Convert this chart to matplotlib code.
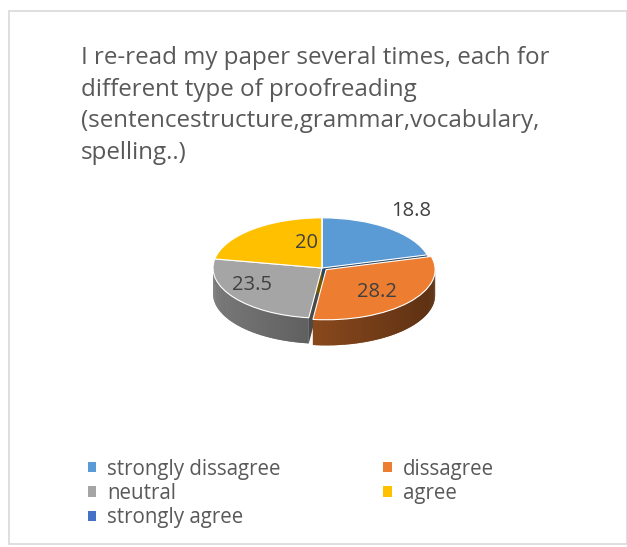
import numpy as np
import matplotlib.pyplot as plt
from matplotlib.patches import Polygon, Patch, Rectangle
from matplotlib.transforms import Affine2D
from matplotlib.colors import to_rgb

categories = ["strongly dissagree", "dissagree", "neutral", "agree", "strongly agree"]
values = [18.8, 28.2, 23.5, 20, 0]
value_labels = ["18.8", "28.2", "23.5", "20", ""]
colors = ["#5B9BD5", "#ED7D31", "#A5A5A5", "#FFC000", "#4472C4"]
explode = [0, 0.05, 0, 0, 0]
title = ("I re-read my paper several times, each for\n"
         "different type of proofreading\n"
         "(sentencestructure,grammar,vocabulary,\n"
         "spelling..)")

W, H = 627, 547
FONT = ["Open Sans", "DejaVu Sans"]
TXT = "#595959"
SQUASH = 0.46
DEPTH = 0.235
PX = 109.0  # pixels per pie unit


def fx(px):
    return px / W


def fy(py):
    return 1 - py / H


def shade(c, f):
    r, g, b = to_rgb(c)
    return (r * f, g * f, b * f)


def main():
    fig = plt.figure(figsize=(W / 100, H / 100), dpi=100)
    fig.patches.append(Rectangle((fx(9), fy(544)), fx(627) - fx(9), fy(11) - fy(544),
                                 transform=fig.transFigure, fill=False,
                                 edgecolor="#D9D9D9", linewidth=1.2))

    fig.text(fx(81), fy(46), title, ha="left", va="top", fontsize=17.4,
             color=TXT, family=FONT, linespacing=1.42)

    # pie axes, 1 unit = PX pixels both ways, centre at (cx, cy)
    cx, cy = 322, 268
    half_w, half_h = 1.4, 1.2
    ax = fig.add_axes([fx(cx - half_w * PX), fy(cy + half_h * PX),
                       2 * half_w * PX / W, 2 * half_h * PX / H])

    wedges, _ = ax.pie(values, colors=colors, startangle=90, counterclock=False,
                       explode=explode, radius=1,
                       wedgeprops=dict(edgecolor="white", linewidth=0.8))
    ax.set_xlim(-half_w, half_w)
    ax.set_ylim(-half_h, half_h)
    ax.axis("off")

    squash = Affine2D().scale(1, SQUASH)
    for w in wedges:
        w.set_transform(squash + ax.transData)
        w.set_zorder(5)

    # side walls of the 3D pie
    for w, c in zip(wedges, colors):
        t1, t2 = w.theta1, w.theta2
        if t2 - t1 <= 0:
            continue
        ox, oy = w.center
        oy *= SQUASH
        # radial walls
        for t in (t1, t2):
            a = np.radians(t)
            ex, ey = ox + np.cos(a), oy + SQUASH * np.sin(a)
            poly = [(ox, oy), (ex, ey), (ex, ey - DEPTH), (ox, oy - DEPTH)]
            ax.add_patch(Polygon(poly, closed=True, facecolor=shade(c, 0.45),
                                 edgecolor="none", zorder=2))
        # curved front wall, split into overlapping strips for a shaded look
        ts = np.linspace(t1, t2, 90)
        step = ts[1] - ts[0]
        for a0 in ts[:-1]:
            a1 = min(a0 + step * 1.8, t2)
            am = np.radians(a0 + step / 2) % (2 * np.pi)
            if am < np.pi:
                continue
            r0, r1 = np.radians(a0), np.radians(a1)
            p0 = (ox + np.cos(r0), oy + SQUASH * np.sin(r0))
            p1 = (ox + np.cos(r1), oy + SQUASH * np.sin(r1))
            poly = [p0, p1, (p1[0], p1[1] - DEPTH), (p0[0], p0[1] - DEPTH)]
            f = 0.56 - 0.17 * np.cos(am)
            ax.add_patch(Polygon(poly, closed=True, facecolor=shade(c, f),
                                 edgecolor="none", zorder=3))

    # data labels
    label_pos = [(0.82, 0.52), (0.5, -0.22), (-0.64, -0.16), (-0.14, 0.23), (0, 0)]
    for lab, (lx, ly) in zip(value_labels, label_pos):
        if lab:
            ax.text(lx, ly, lab, ha="center", va="center", fontsize=14.5,
                    color="#404040", family=FONT, zorder=10)

    # legend, row-major order like the original
    handles = [Patch(facecolor=c, edgecolor="none") for c in colors]
    order = [0, 2, 4, 1, 3]
    fig.legend([handles[i] for i in order], [categories[i] for i in order],
               loc="upper left", bbox_to_anchor=(fx(69), fy(440)), ncol=2,
               frameon=False, handlelength=0.4, handleheight=0.4,
               handletextpad=0.55, columnspacing=5.0, labelspacing=0.17,
               prop=dict(family=FONT, size=14.8), labelcolor=TXT)

    fig.savefig("out.png", dpi=100)


if __name__ == "__main__":
    main()
